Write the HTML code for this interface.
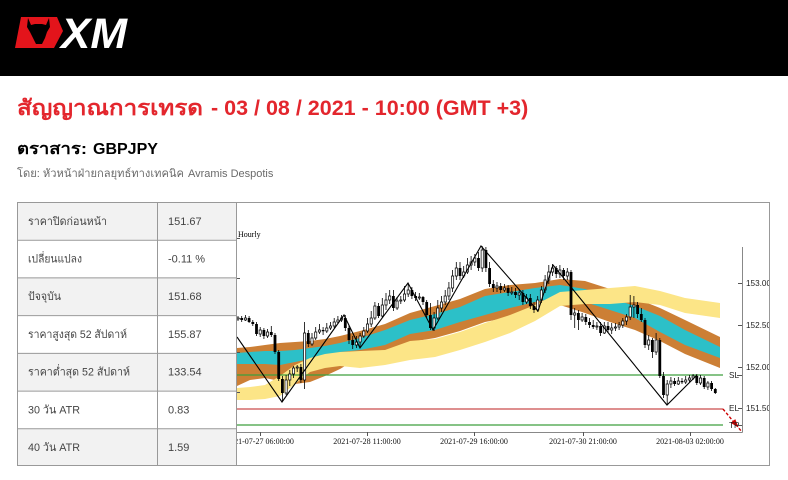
<!DOCTYPE html>
<html><head><meta charset="utf-8"><style>
html,body{margin:0;padding:0;background:#fff;width:788px;height:480px;overflow:hidden}
svg{display:block}
</style></head><body>
<svg width="788" height="480" viewBox="0 0 788 480" xmlns="http://www.w3.org/2000/svg">
<defs>
<clipPath id="plot"><rect x="237" y="203" width="532" height="262"/></clipPath>
</defs>
<rect width="788" height="480" fill="#fff"/>
<!-- header -->
<rect width="788" height="76" fill="#000"/>
<path d="M21 17H57L63 31L54 48H15Z" fill="#e3141b"/>
<path d="M28 18L31 25L35 24L42 24L46 25L49 18L50 27L47 32L45 38L42 44L36 44L33 38L30 32L27 27Z" fill="#000"/>
<text x="61" y="48" font-family="Liberation Sans, sans-serif" font-weight="bold" font-style="italic" font-size="43" fill="#fff" textLength="66" lengthAdjust="spacingAndGlyphs">XM</text>

<!-- title -->
<text x="17" y="115" font-family="Liberation Sans, sans-serif" font-weight="bold" font-size="21.5" fill="#e3262d" textLength="186" lengthAdjust="spacingAndGlyphs">สัญญาณการเทรด</text>
<text x="211" y="115" font-family="Liberation Sans, sans-serif" font-weight="bold" font-size="21.5" fill="#e3262d">- 03 / 08 / 2021 - 10:00 (GMT +3)</text>

<text x="17" y="154" font-family="Liberation Sans, sans-serif" font-weight="bold" font-size="16" fill="#000" textLength="70" lengthAdjust="spacingAndGlyphs">ตราสาร:</text>
<text x="93" y="154" font-family="Liberation Sans, sans-serif" font-weight="bold" font-size="16" fill="#000">GBPJPY</text>

<text x="17" y="177" font-family="Liberation Sans, sans-serif" font-size="11" fill="#6a6a6a" textLength="167" lengthAdjust="spacingAndGlyphs">โดย: หัวหน้าฝ่ายกลยุทธ์ทางเทคนิค</text>
<text x="188" y="177" font-family="Liberation Sans, sans-serif" font-size="11" fill="#6a6a6a">Avramis Despotis</text>

<!-- table -->
<g>
<rect x="17" y="202" width="219" height="37.7" fill="#f2f2f2"/>
<rect x="17" y="239.7" width="219" height="37.7" fill="#fff"/>
<rect x="17" y="277.4" width="219" height="37.7" fill="#f2f2f2"/>
<rect x="17" y="315.1" width="219" height="37.8" fill="#fff"/>
<rect x="17" y="352.9" width="219" height="37.7" fill="#f2f2f2"/>
<rect x="17" y="390.6" width="219" height="37.7" fill="#fff"/>
<rect x="17" y="428.3" width="219" height="37.7" fill="#f2f2f2"/>
<g stroke="#999" stroke-width="1" fill="none">
<rect x="17.5" y="202.5" width="219" height="263"/>
<path d="M17 240.2H236M17 277.9H236M17 315.6H236M17 353.4H236M17 391.1H236M17 428.8H236M157.5 202V466"/>
</g>
<g font-family="Liberation Sans, sans-serif" font-size="11" fill="#444">
<text x="28" y="225" textLength="79" lengthAdjust="spacingAndGlyphs">ราคาปิดก่อนหน้า</text>
<text x="28" y="262.5" textLength="54" lengthAdjust="spacingAndGlyphs">เปลี่ยนแปลง</text>
<text x="28" y="300" textLength="33" lengthAdjust="spacingAndGlyphs">ปัจจุบัน</text>
<text x="28" y="338" textLength="99" lengthAdjust="spacingAndGlyphs">ราคาสูงสุด 52 สัปดาห์</text>
<text x="28" y="375.5" textLength="102" lengthAdjust="spacingAndGlyphs">ราคาต่ำสุด 52 สัปดาห์</text>
<text x="28" y="413.5" textLength="52" lengthAdjust="spacingAndGlyphs">30 วัน ATR</text>
<text x="28" y="451" textLength="52" lengthAdjust="spacingAndGlyphs">40 วัน ATR</text>
<text x="168" y="225">151.67</text>
<text x="168" y="262.5">-0.11 %</text>
<text x="168" y="300">151.68</text>
<text x="168" y="338">155.87</text>
<text x="168" y="375.5">133.54</text>
<text x="168" y="413.5">0.83</text>
<text x="168" y="451">1.59</text>
</g>
</g>

<!-- chart frame -->
<rect x="236.5" y="202.5" width="533" height="263" fill="#fff" stroke="#999" stroke-width="1"/>

<g clip-path="url(#plot)">
<!-- bands -->
<polygon fill="#cc7f35" points="237,348 250,347 265,345 280,343 295,342 310,341 325,339 340,336 360,331 385,324 410,313 435,306 460,299 485,289 510,285 535,283 560,279 585,281 610,289 635,298 660,308 685,320 720,337 720,368 685,354 660,341 635,330 610,322 585,313 560,305 535,310 510,317 485,322 460,331 435,338 410,342 385,351 360,357 340,369 325,376 310,382 295,384 280,381 265,378 250,380 237,386"/>
<polygon fill="#2cc0c8" points="237,353 250,352 265,351 280,351 295,350 310,348 325,346 340,343 360,338 385,330 410,320 435,314 460,307 485,296 510,292 535,288 560,285 585,289 610,298 635,306 660,316 685,330 720,347 720,358 685,345 660,332 635,318 610,310 585,302 560,297 535,302 510,308 485,315 460,322 435,330 410,334 385,345 360,350 340,352 325,355 310,359 295,362 280,365 265,364 250,364 237,364"/>
<polygon fill="#fce587" points="237,388 250,387 265,385 280,376 295,365 310,358 325,354 340,352 360,351 385,350 410,341 435,339 460,332 485,323 510,315 535,305 560,292 585,290 610,288 635,286 660,291 685,298 720,303 720,318 685,313 660,305 635,302 610,304 585,304 560,306 535,321 510,333 485,342 460,350 435,357 410,360 385,365 360,368 340,366 325,368 310,372 295,384 280,396 265,399 250,400 237,400"/>

<!-- level lines -->
<path d="M237 375H723M237 425H723" stroke="#3d9f3d" stroke-width="1.2" fill="none"/>
<path d="M237 409H723" stroke="#d46a6a" stroke-width="1.6" fill="none"/>

<!-- candles wicks -->
<path stroke="#000" stroke-width="0.8" fill="none" d="M238 316V321M241.7 316V322M245.4 315V321M249.1 316V323M252.8 320V326M256.5 322V336M260.2 327V337M263.9 328V339M267.6 329V338M271.3 326V337M275 333V354M278.7 350V381M282.4 376V401M286.1 375V395M289.8 370V386M293.5 366V378M297.2 365V372M300.9 364V383M304.6 322V389M308.3 330V347M312 333V346M315.7 327V340M319.4 324V334M323.1 327V335M326.8 323V333M330.5 322V330M334.2 318V328M337.9 316V324M341.6 315V322M345.3 315V331M349 325V344M352.7 336V349M356.4 336V348M360.1 333V348M363.8 327V338M367.5 318V333M371.2 311V327M374.9 302V320M378.6 303V318M382.3 298V318M386 293V310M389.7 290V304M393.4 290V311M397.1 297V310M400.8 296V304M404.5 286V302M408.2 284V297M411.9 287V299M415.6 292V301M419.3 293V300M423 296V305M426.7 300V318M430.4 303V330M434.1 312V331M437.8 300V320M441.5 296V312M445.2 290V305M448.9 282V300M452.6 270V292M456.3 262V280M460 262V280M463.7 266V278M467.4 258V274M471.1 256V270M474.8 254V266M478.5 252V271M482.2 246V272M485.9 247V272M489.6 262V287M493.3 280V292M497 282V292M500.7 283V293M504.4 284V292M508.1 285V296M511.8 287V295M515.5 288V298M519.2 289V300M522.9 290V305M526.6 294V304M530.3 294V309M534 302V313M537.7 296V312M541.4 286V303M545.1 275V293M548.8 265V284M552.5 264V276M556.2 266V278M559.9 265V278M563.6 268V280M567.3 268V280M571 270V320M574.7 308V328M578.4 310V330M582.1 313V322M585.8 314V325M589.5 318V328M593.2 320V329M596.9 322V330M600.6 322V336M604.3 322V334M608 322V333M611.7 323V334M615.4 323V331M619.1 322V330M622.8 318V328M626.5 314V325M630.2 295V320M633.9 296V318M637.6 302V318M641.3 308V322M645 318V348M648.7 335V350M652.4 338V358M656.1 333V355M659.8 338V378M663.5 372V398M667.2 380V404M670.9 377V388M674.6 378V386M678.3 377V385M682 378V384M685.7 376V384M689.4 375V382M693.1 374V380M696.8 374V385M700.5 375V385M704.2 376V389M707.9 381V390M711.6 381V391M715.3 388V394"/>

<!-- black bodies -->
<path fill="#000" d="M240.3 318h2.8v2h-2.8zM247.7 318h2.8v4h-2.8zM251.4 322h2.8v2h-2.8zM255.1 324h2.8v10h-2.8zM262.5 330h2.8v6h-2.8zM269.9 332h2.8v3h-2.8zM273.6 335h2.8v17h-2.8zM277.3 352h2.8v27h-2.8zM281 379h2.8v14h-2.8zM299.5 367h2.8v13h-2.8zM306.9 333h2.8v11h-2.8zM321.7 330h2.8v1.2h-2.8zM343.9 318h2.8v10h-2.8zM347.6 328h2.8v12h-2.8zM351.3 340h2.8v5h-2.8zM377.2 306h2.8v10h-2.8zM392 296h2.8v12h-2.8zM410.5 290h2.8v6h-2.8zM414.2 296h2.8v2h-2.8zM421.6 297h2.8v5h-2.8zM425.3 302h2.8v13h-2.8zM429 315h2.8v13h-2.8zM458.6 268h2.8v8h-2.8zM477.1 258h2.8v10h-2.8zM484.5 250h2.8v18h-2.8zM488.2 268h2.8v16h-2.8zM491.9 284h2.8v4h-2.8zM499.3 286h2.8v4h-2.8zM506.7 288h2.8v5h-2.8zM514.1 292h2.8v3h-2.8zM521.5 293h2.8v9h-2.8zM528.9 298h2.8v8h-2.8zM532.6 306h2.8v4h-2.8zM554.8 268h2.8v6h-2.8zM562.2 270h2.8v6h-2.8zM569.6 272h2.8v43h-2.8zM577 313h2.8v7h-2.8zM584.4 317h2.8v5h-2.8zM588.1 322h2.8v3h-2.8zM591.8 325h2.8v2h-2.8zM599.2 326h2.8v7h-2.8zM606.6 326h2.8v4h-2.8zM636.2 305h2.8v9h-2.8zM639.9 314h2.8v6h-2.8zM643.6 320h2.8v25h-2.8zM651 340h2.8v12h-2.8zM658.4 340h2.8v36h-2.8zM662.1 376h2.8v19h-2.8zM673.2 381h2.8v3h-2.8zM680.6 381h2.8v1.2h-2.8zM695.4 376h2.8v7h-2.8zM702.8 378h2.8v9h-2.8zM710.2 383h2.8v6h-2.8zM713.9 389h2.8v4h-2.8z"/>

<!-- white bodies -->
<path fill="#fff" stroke="#000" stroke-width="0.7" d="M236.9 318h2.2v1h-2.2zM244.3 318h2.2v2h-2.2zM259.1 330h2.2v4h-2.2zM266.5 332h2.2v4h-2.2zM285 380h2.2v13h-2.2zM288.7 374h2.2v6h-2.2zM292.4 368h2.2v6h-2.2zM296.1 367h2.2v1h-2.2zM303.5 333h2.2v47h-2.2zM310.9 338h2.2v6h-2.2zM314.6 332h2.2v6h-2.2zM318.3 330h2.2v2h-2.2zM325.7 328h2.2v3h-2.2zM329.4 326h2.2v2h-2.2zM333.1 322h2.2v4h-2.2zM336.8 320h2.2v2h-2.2zM340.5 318h2.2v2h-2.2zM355.3 342h2.2v3h-2.2zM359 336h2.2v6h-2.2zM362.7 331h2.2v5h-2.2zM366.4 324h2.2v7h-2.2zM370.1 318h2.2v6h-2.2zM373.8 306h2.2v12h-2.2zM381.2 305h2.2v11h-2.2zM384.9 300h2.2v5h-2.2zM388.6 296h2.2v4h-2.2zM396 301h2.2v7h-2.2zM399.7 300h2.2v1h-2.2zM403.4 294h2.2v6h-2.2zM407.1 290h2.2v4h-2.2zM418.2 297h2.2v1h-2.2zM433 318h2.2v10h-2.2zM436.7 308h2.2v10h-2.2zM440.4 302h2.2v6h-2.2zM444.1 296h2.2v6h-2.2zM447.8 288h2.2v8h-2.2zM451.5 276h2.2v12h-2.2zM455.2 268h2.2v8h-2.2zM462.6 272h2.2v4h-2.2zM466.3 265h2.2v7h-2.2zM470 262h2.2v3h-2.2zM473.7 258h2.2v4h-2.2zM481.1 250h2.2v18h-2.2zM495.9 286h2.2v2h-2.2zM503.3 288h2.2v2h-2.2zM510.7 292h2.2v1h-2.2zM518.1 293h2.2v2h-2.2zM525.5 298h2.2v4h-2.2zM536.6 300h2.2v10h-2.2zM540.3 290h2.2v10h-2.2zM544 280h2.2v10h-2.2zM547.7 272h2.2v8h-2.2zM551.4 268h2.2v4h-2.2zM558.8 270h2.2v4h-2.2zM566.2 272h2.2v4h-2.2zM573.6 313h2.2v2h-2.2zM581 317h2.2v3h-2.2zM595.8 326h2.2v1h-2.2zM603.2 326h2.2v7h-2.2zM610.6 328h2.2v2h-2.2zM614.3 327h2.2v1h-2.2zM618 325h2.2v2h-2.2zM621.7 321h2.2v4h-2.2zM625.4 317h2.2v4h-2.2zM629.1 307h2.2v10h-2.2zM632.8 305h2.2v2h-2.2zM647.6 340h2.2v5h-2.2zM655 340h2.2v12h-2.2zM666.1 384h2.2v11h-2.2zM669.8 381h2.2v3h-2.2zM677.2 381h2.2v3h-2.2zM684.6 380h2.2v2h-2.2zM688.3 378h2.2v2h-2.2zM692 376h2.2v2h-2.2zM699.4 378h2.2v5h-2.2zM706.8 383h2.2v4h-2.2z"/>

<!-- zigzag -->
<polyline fill="none" stroke="#000" stroke-width="1.1" points="237,337 282,402 344,315 360,348 408,283 433,330 481,246 538,311 553,265 667,405 697,375"/>

<!-- axes -->
<path d="M742.5 247V432.5M237 432.5H742.5" stroke="#888" stroke-width="1" fill="none"/>
<path d="M738 283.5H742M738 325.5H742M738 367.5H742M738 408.5H742M737 375.5H742M737 425.5H742M260.5 432V436M367.5 432V436M474.5 432V436M583.5 432V436M690.5 432V436M237 238.5H240M237 278.5H240M237 318.5H240M237 352.5H240M237 392.5H240" stroke="#555" stroke-width="1" fill="none"/>

<!-- red dashed arrow -->
<path d="M723 409L742 432" stroke="#cc0000" stroke-width="1.4" stroke-dasharray="3,2" fill="none"/>
<polygon points="738.5,427.5 735.3,419.1 730.7,422.9" fill="#cc0000"/>

<!-- labels -->
<text x="238" y="237" font-family="Liberation Serif, serif" font-size="8" fill="#000">Hourly</text>
<g font-family="Liberation Sans, sans-serif" font-size="8.2" fill="#222">
<text x="746" y="286">153.00</text>
<text x="746" y="328">152.50</text>
<text x="746" y="370">152.00</text>
<text x="746" y="411">151.50</text>
<text x="729" y="378">SL</text>
<text x="729" y="411">EL</text>
<text x="729" y="428">TP</text>
</g>
<g font-family="Liberation Serif, serif" font-size="8" fill="#111" text-anchor="middle">
<text x="260" y="444">2021-07-27 06:00:00</text>
<text x="367" y="444">2021-07-28 11:00:00</text>
<text x="474" y="444">2021-07-29 16:00:00</text>
<text x="583" y="444">2021-07-30 21:00:00</text>
<text x="690" y="444">2021-08-03 02:00:00</text>
</g>
</g>
</svg>
</body></html>
